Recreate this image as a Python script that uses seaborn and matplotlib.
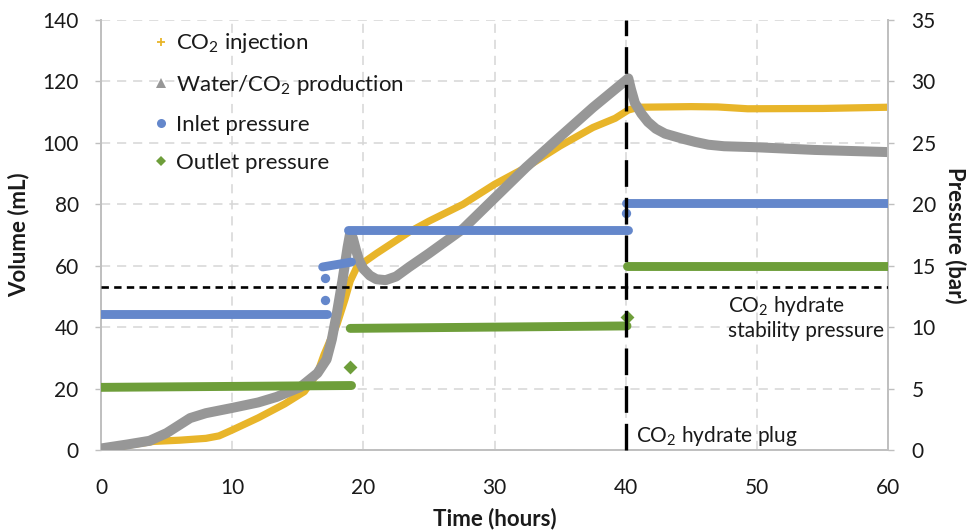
import numpy as np
import pandas as pd
import matplotlib
matplotlib.use("Agg")
import matplotlib.pyplot as plt
from matplotlib.lines import Line2D
import seaborn as sns

# ---- data -------------------------------------------------------------
# cumulative CO2 injected (mL) vs time (h)
inj_time = [0, 2, 4, 6, 8, 9, 10, 12, 14, 15.5, 16.5, 17.0, 17.5, 18.0, 18.6,
            19.0, 19.5, 21.0, 23.5, 25.0, 27.6, 30.0, 32.4, 35.0, 37.5, 39.2,
            40.2, 41.0, 45.0, 47.0, 49.3, 55.0, 60.0]
co2_injection = [0, 1.5, 2.8, 3.2, 3.8, 4.6, 6.5, 10.5, 15.0, 19.0, 25.0, 31.0,
                 36.0, 41.0, 49.0, 55.0, 59.5, 64.0, 71.0, 74.5, 80.0, 86.5,
                 92.0, 99.0, 105.0, 108.0, 110.7, 111.6, 111.8, 111.7, 111.1,
                 111.2, 111.6]

# cumulative water/CO2 produced (mL) vs time (h)
prod_time = [0, 2, 3.7, 5.0, 6.8, 8.0, 10.0, 12.0, 13.4, 15.2, 16.5, 17.2,
             17.6, 18.0, 18.4, 18.8, 19.0, 19.2, 19.45, 19.7, 20.0, 20.5,
             21.0, 21.7, 22.5, 23.5, 25.0, 27.6, 30.0, 32.4, 35.0, 37.5, 40.2,
             40.4, 40.7, 41.2, 41.7, 42.3, 43.0, 44.3, 45.3, 46.3, 47.5, 49.8,
             54.4, 60.0]
water_co2_production = [0.5, 1.8, 3.0, 5.5, 10.4, 12.0, 13.7, 15.5, 17.3, 20.5,
                        25.0, 29.5, 36.0, 45.0, 55.0, 66.0, 70.7, 69.0, 65.0,
                        61.5, 59.0, 56.8, 55.6, 55.3, 56.5, 59.6, 64.0, 72.0,
                        82.0, 92.0, 102.0, 111.5, 121.0, 117.5, 113.0, 109.5,
                        106.8, 104.6, 103.0, 101.4, 100.3, 99.4, 98.9, 98.6,
                        97.7, 97.0]

# inlet pressure (bar): steady levels and the transitional readings
inlet_start = [0.0, 16.9, 18.8, 40.0]
inlet_end = [17.2, 19.1, 40.2, 60.0]
inlet_level_start = [11.1, 14.9, 17.9, 20.1]
inlet_level_end = [11.1, 15.3, 17.9, 20.1]
inlet_jump_time = [17.1, 17.1, 40.0]
inlet_jump_bar = [12.2, 14.0, 19.3]

# outlet pressure (bar)
outlet_start = [0.0, 19.0, 40.1]
outlet_end = [19.1, 40.1, 60.0]
outlet_level_start = [5.1, 9.9, 15.0]
outlet_level_end = [5.25, 10.1, 15.0]
outlet_jump_time = [19.0, 40.1]
outlet_jump_bar = [6.75, 10.8]

hydrate_stability_bar = 13.3
hydrate_plug_time = 40

legend_labels = ["CO$_2$ injection", "Water/CO$_2$ production",
                 "Inlet pressure", "Outlet pressure"]

# ---- styling ----------------------------------------------------------
sns.set_theme(style="white")
plt.rcParams["font.family"] = ["Lato", "DejaVu Sans"]
plt.rcParams["mathtext.default"] = "regular"

c_inj = "#E8B52A"
c_prod = "#979797"
c_inlet = "#6487CB"
c_outlet = "#6E9E3A"
c_text = "#1A1A1A"
c_axis = "#BFBFBF"
c_grid = "#D6D6D6"

fig = plt.figure(figsize=(9.68, 5.32), dpi=100)
ax = fig.add_axes([0.1043, 0.1541, 0.8131, 0.8083])
ax2 = ax.twinx()


def segments(starts, ends, lv0, lv1):
    rows = []
    for i, (s, e, a, b) in enumerate(zip(starts, ends, lv0, lv1)):
        rows.append((s, a, i))
        rows.append((e, b, i))
    return pd.DataFrame(rows, columns=["time", "bar", "seg"])


inj_df = pd.DataFrame({"time": inj_time, "volume": co2_injection})
prod_df = pd.DataFrame({"time": prod_time, "volume": water_co2_production})

sns.lineplot(data=inj_df, x="time", y="volume", ax=ax, color=c_inj, lw=5.2,
             sort=False, estimator=None, legend=False,
             solid_capstyle="round", solid_joinstyle="round", zorder=3)
sns.lineplot(data=prod_df, x="time", y="volume", ax=ax, color=c_prod, lw=7.2,
             sort=False, estimator=None, legend=False,
             solid_capstyle="round", solid_joinstyle="round", zorder=4)

inlet_df = segments(inlet_start, inlet_end, inlet_level_start, inlet_level_end)
outlet_df = segments(outlet_start, outlet_end, outlet_level_start, outlet_level_end)

sns.lineplot(data=outlet_df, x="time", y="bar", units="seg", estimator=None,
             ax=ax2, color=c_outlet, lw=6.4, legend=False,
             solid_capstyle="round", zorder=3)
sns.lineplot(data=inlet_df, x="time", y="bar", units="seg", estimator=None,
             ax=ax2, color=c_inlet, lw=6.4, legend=False,
             solid_capstyle="round", zorder=3)
sns.scatterplot(x=inlet_jump_time, y=inlet_jump_bar, ax=ax2, color=c_inlet,
                s=45, marker="o", linewidth=0, zorder=3, legend=False)
sns.scatterplot(x=outlet_jump_time, y=outlet_jump_bar, ax=ax2, color=c_outlet,
                s=50, marker="D", linewidth=0, zorder=3, legend=False)

# hydrate stability pressure and plug time
ax2.axhline(hydrate_stability_bar, color="black", lw=1.9,
            linestyle=(0, (2.8, 2.0)), zorder=5)
ax2.axvline(hydrate_plug_time, color="black", lw=2.4,
            linestyle=(0, (8, 3.3)), zorder=5, clip_on=False, ymin=0, ymax=1)

# ---- axes -------------------------------------------------------------
ax.set_xlim(0, 60)
ax.set_ylim(0, 140)
ax2.set_ylim(0, 35)
ax.set_xticks(range(0, 61, 10))
ax.set_yticks(range(0, 141, 20))
ax2.set_yticks(range(0, 36, 5))

ax.grid(True, color=c_grid, lw=1.1, linestyle=(0, (6, 4.5)))
ax2.grid(False)

for a in (ax, ax2):
    for side in ("top", "left", "right", "bottom"):
        a.spines[side].set_visible(False)
ax.spines["left"].set_visible(True)
ax.spines["bottom"].set_visible(True)
ax2.spines["right"].set_visible(True)
for sp in (ax.spines["left"], ax.spines["bottom"], ax2.spines["right"]):
    sp.set_color(c_axis)
    sp.set_linewidth(1.4)

ax.tick_params(axis="x", length=0, pad=20, labelsize=15, labelcolor=c_text)
ax.tick_params(axis="y", length=4, width=1, color=c_axis, direction="out",
               pad=12, labelsize=15, labelcolor=c_text, left=True)
ax2.tick_params(axis="y", length=4, width=1, color=c_axis, direction="out",
                pad=13, labelsize=15, labelcolor=c_text, right=True)

ax.set_xlabel("Time (hours)", fontsize=16, fontweight="bold", color=c_text)
ax.set_ylabel("Volume (mL)", fontsize=16, fontweight="bold", color=c_text)
ax2.set_ylabel("Pressure (bar)", fontsize=16, fontweight="bold", color=c_text,
               rotation=270)
ax.xaxis.set_label_coords(0.5, -0.135)
ax.yaxis.set_label_coords(-0.091, 0.5)
ax2.yaxis.set_label_coords(1.1, 0.5)

# annotations
ax2.text(47.8, hydrate_stability_bar - 0.6, "CO$_2$ hydrate\nstability pressure",
         fontsize=15, color=c_text, ha="left", va="top", linespacing=1.2,
         zorder=6)
ax2.text(40.8, 1.15, "CO$_2$ hydrate plug", fontsize=15, color=c_text,
         ha="left", va="center", zorder=6)

# legend
handles = [
    Line2D([], [], ls="none", marker="+", color=c_inj, markersize=6, mew=1.3),
    Line2D([], [], ls="none", marker="^", color=c_prod, markersize=7, mew=0),
    Line2D([], [], ls="none", marker="o", color=c_inlet, markersize=6.5, mew=0),
    Line2D([], [], ls="none", marker="D", color=c_outlet, markersize=5, mew=0),
]
leg = fig.legend(handles, legend_labels, loc="upper left",
                 bbox_to_anchor=(0.160, 0.941), frameon=False, fontsize=16,
                 handlelength=0.55, handletextpad=0.4, labelspacing=0.8,
                 borderpad=0, borderaxespad=0)
for t in leg.get_texts():
    t.set_color(c_text)

fig.savefig("out.png", dpi=100)
